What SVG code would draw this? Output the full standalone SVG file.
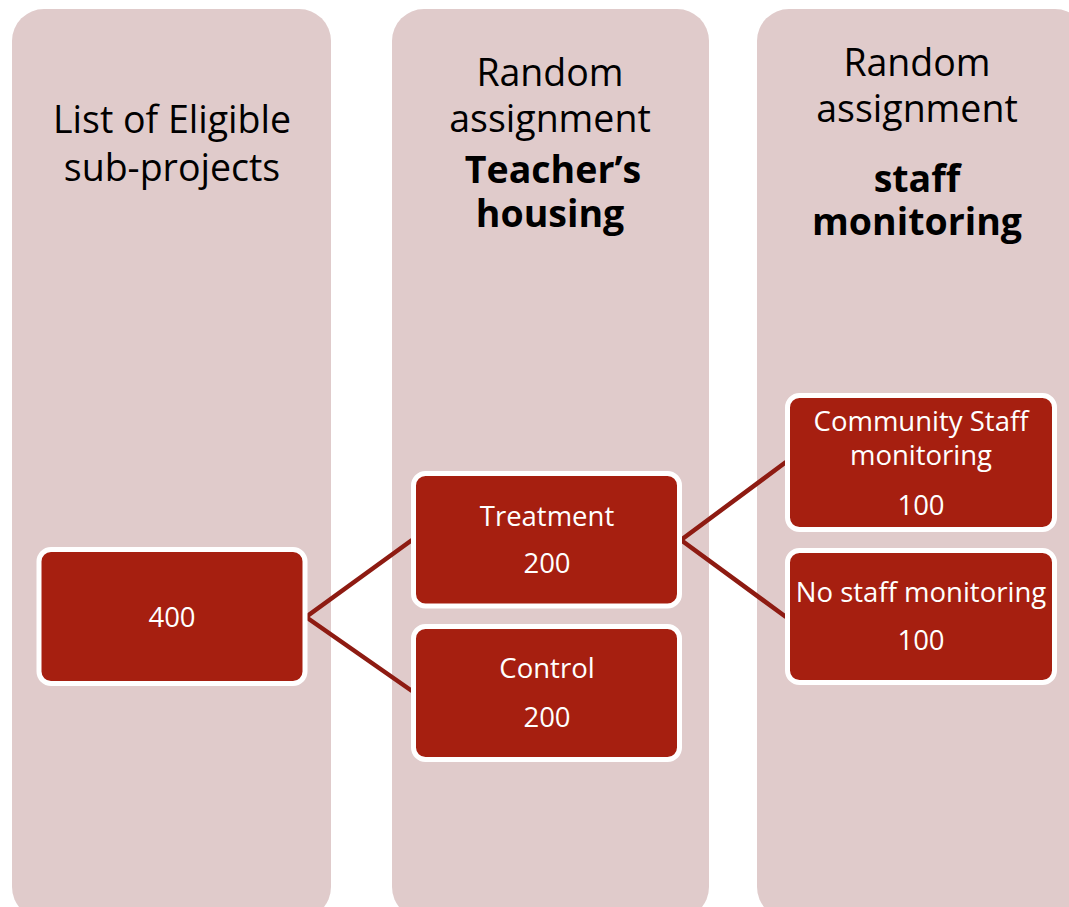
<svg xmlns="http://www.w3.org/2000/svg" width="1069" height="907" viewBox="0 0 1069 907">
<style>
.col{fill:#E0CBCB;}
.node{fill:#A61F10;stroke:#FFFFFF;stroke-width:5;}
.hd{font-family:"Open Sans","Noto Sans",sans-serif;font-size:37.5px;fill:#000;text-anchor:middle;}
.b{font-weight:bold;}
.nt{font-family:"Open Sans","Noto Sans",sans-serif;font-size:27.5px;fill:#FFFFFF;text-anchor:middle;}
.con{stroke:#8E1B12;stroke-width:4.5;fill:none;}
</style>
<rect width="1069" height="907" fill="#FFFFFF"/>
<g id="col1">
<rect class="col" x="12" y="9" width="319" height="910" rx="32"/>
<text class="hd"><tspan x="172" y="133">List of Eligible</tspan><tspan x="172" y="181">sub-projects</tspan></text>
</g>
<g id="col2">
<rect class="col" x="392" y="9" width="317" height="910" rx="32"/>
<text class="hd"><tspan x="550" y="86">Random</tspan><tspan x="550" y="132">assignment</tspan><tspan class="b" x="553" y="183">Teacher’s</tspan><tspan class="b" x="550" y="227">housing</tspan></text>
</g>
<g id="col3">
<rect class="col" x="757" y="9" width="330" height="910" rx="32"/>
<text class="hd"><tspan x="917" y="76">Random</tspan><tspan x="917" y="122">assignment</tspan><tspan class="b" x="917" y="192">staff</tspan><tspan class="b" x="917" y="235">monitoring</tspan></text>
</g>
<g id="connectors">
<polyline class="con" points="412,540 306,617 412,691"/>
<polyline class="con" points="786,462 681,540 786,617"/>
</g>
<g id="n400">
<rect class="node" x="39" y="549.5" width="266" height="134" rx="12"/>
<text class="nt" x="172" y="627">400</text>
</g>
<g id="ntreat">
<rect class="node" x="413.5" y="473.5" width="266" height="132.5" rx="12"/>
<text class="nt"><tspan x="547" y="526">Treatment</tspan><tspan x="547" y="573">200</tspan></text>
</g>
<g id="ncontrol">
<rect class="node" x="413.5" y="626.5" width="266" height="133" rx="12"/>
<text class="nt"><tspan x="547" y="678">Control</tspan><tspan x="547" y="727">200</tspan></text>
</g>
<g id="ncomm">
<rect class="node" x="787.5" y="395.5" width="267" height="134" rx="12"/>
<text class="nt"><tspan x="921" y="431">Community Staff</tspan><tspan x="921" y="465">monitoring</tspan><tspan x="921" y="515">100</tspan></text>
</g>
<g id="nnostaff">
<rect class="node" x="787.5" y="550.5" width="267" height="132" rx="12"/>
<text class="nt"><tspan x="921" y="602">No staff monitoring</tspan><tspan x="921" y="650">100</tspan></text>
</g>
</svg>
